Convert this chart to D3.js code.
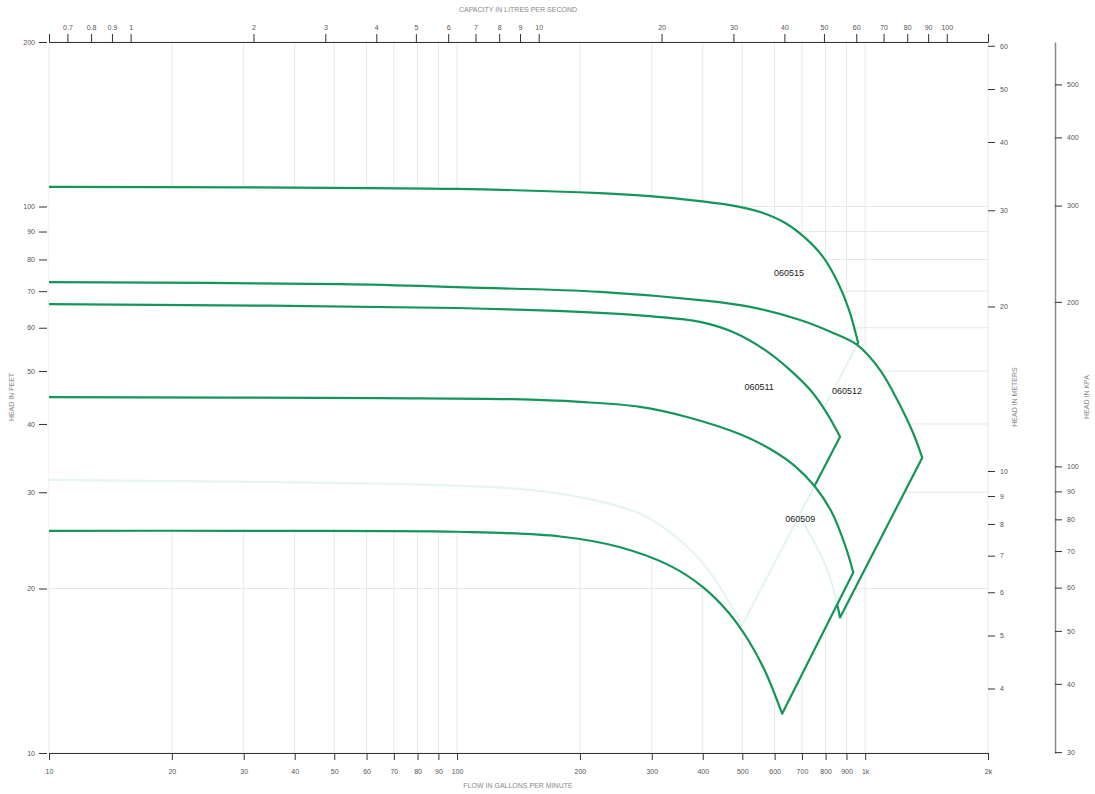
<!DOCTYPE html>
<html lang="en">
<head>
  <meta charset="utf-8">
  <title>Pump curves 0605 series</title>
  <!-- d3 v7 does all the drawing -->
  <script src="https://d3js.org/d3.v7.min.js"></script>
  <style>
    body { margin: 0; background: #fff; }
    svg { opacity: 0.995; }
    .axis text { font: 7px "Liberation Sans", Arial, sans-serif; fill: #555; }
    .axis line, .axis path { stroke: #333; }
    .title { font: 7px "Liberation Sans", Arial, sans-serif; fill: #888; }
    .grid line { stroke: #e8e8e8; stroke-width: 1; }
    .model { fill: #fff; fill-opacity: 0.9; stroke: #14965a; stroke-width: 2.2; stroke-linejoin: round; }
    .model-label { font: 9px "Liberation Sans", Arial, sans-serif; fill: #222; }
  </style>
</head>
<body>
<script>
  /* values: [flow gpm, head ft] */
  const models = ["060515", "060512", "060511", "060509"];

  const max060515 = [[10,108.6],[30,108.4],[100,107.7],[224,105.8],[297,104.5],[394,102.3],[467,100.6],[553,97.7],[637,93.3],[713,87.6],[789,80.8],[859,72.4],[913,64.7],[961,56.3]];
  const min060515 = [[10,50.4],[65,49.8],[137,49.0],[281,46.2],[401,39.0],[480,32.3],[550,25.3]];

  const max060512 = [[10,72.7],[52,72.1],[100,71.2],[224,69.8],[394,67.4],[523,65.5],[693,62.0],[835,58.7],[956,55.8],[1088,50.2],[1198,44.3],[1311,38.5],[1380,34.7]];
  const min060512 = [[10,40.5],[65,40.1],[281,37.4],[441,35.4],[553,32.3],[644,29.0],[733,25.1],[812,21.4],[868,17.7]];

  const max060511 = [[10,66.3],[100,65.2],[224,63.9],[297,63.0],[394,61.5],[480,58.7],[569,54.6],[655,50.2],[733,46.2],[802,42.1],[868,37.9]];
  const min060511 = [[10,31.6],[65,31.1],[137,30.5],[200,29.4],[281,27.4],[352,24.5],[417,21.4],[499,17.1]];

  const max060509 = [[10,44.8],[65,44.6],[137,44.4],[200,43.9],[281,43.0],[366,41.2],[494,38.3],[585,36.0],[673,33.5],[754,30.7],[830,27.5],[893,24.0],[935,21.4]];
  const min060509 = [[10,25.5],[30,25.5],[100,25.4],[179,24.9],[251,23.8],[333,22.0],[401,20.1],[462,18.1],[517,16.1],[569,14.1],[626,11.8]];

  const labelPoints = [[651,75.6],[903,46.0],[550,46.7],[693,26.8]];

  /* tick values for the five axes */
  const gpmTicks = [10,20,30,40,50,60,70,80,90,100,200,300,400,500,600,700,800,900,1000,2000];
  const lpsTicks = [0.7,0.8,0.9,1,2,3,4,5,6,7,8,9,10,20,30,40,50,60,70,80,90,100];
  const feetTicks = [10,20,30,40,50,60,70,80,90,100,200];
  const meterTicks = [4,5,6,7,8,9,10,20,30,40,50,60];
  const kpaTicks = [30,40,50,60,70,80,90,100,200,300,400,500];

  const curves = [[max060515, min060515], [max060512, min060512], [max060511, min060511], [max060509, min060509]];

  var GPM_PER_LPS = 15.850, M_PER_FT = 0.3048, KPA_PER_FT = 2.989;

  var x = d3.scaleLog().domain([10, 2000]).range([49, 988]);
  var y = d3.scaleLog().domain([10, 200]).range([753, 42]);
  var xL = d3.scaleLog().domain([10 / GPM_PER_LPS, 2000 / GPM_PER_LPS]).range(x.range());
  var yM = d3.scaleLog().domain([10 * M_PER_FT, 200 * M_PER_FT]).range(y.range());
  var yK = d3.scaleLog().domain([10 * KPA_PER_FT, 200 * KPA_PER_FT]).range(y.range());

  var svg = d3.select("body").append("svg")
      .attr("width", 1095)
      .attr("height", 794);

  // grid first, the white-ish model areas wash it out where they overlap
  var grid = svg.append("g").attr("class", "grid");
  grid.selectAll(".vx").data(gpmTicks).enter().append("line")
      .attr("x1", d => x(d)).attr("x2", d => x(d))
      .attr("y1", y(200)).attr("y2", y(10));
  grid.selectAll(".hy").data(feetTicks).enter().append("line")
      .attr("x1", x(10)).attr("x2", x(2000))
      .attr("y1", d => y(d)).attr("y2", d => y(d));

  var line = d3.line()
      .x(d => x(d[0]))
      .y(d => y(d[1]))
      .curve(d3.curveCatmullRom.alpha(0.5));

  // each model: max impeller curve, straight end line, min impeller curve back (left side left open)
  svg.append("g").selectAll("path").data(curves).enter().append("path")
      .attr("class", "model")
      .attr("d", function(c) {
        var top = line(c[0]);
        var bottom = line(c[1].slice().reverse());
        return top + "L" + bottom.substring(1);
      });

  svg.append("g").selectAll("text").data(models).enter().append("text")
      .attr("class", "model-label")
      .attr("x", (d, i) => x(labelPoints[i][0]))
      .attr("y", (d, i) => y(labelPoints[i][1]))
      .attr("dy", "0.35em")
      .attr("text-anchor", "middle")
      .text(d => d);

  // axes
  svg.append("g").attr("class", "axis")
      .attr("transform", "translate(0,753)")
      .call(d3.axisBottom(x).tickValues(gpmTicks)
        .tickFormat(d => d >= 1000 ? (d / 1000) + "k" : d)
        .tickSize(7).tickPadding(9));

  svg.append("g").attr("class", "axis")
      .attr("transform", "translate(0,42)")
      .call(d3.axisTop(xL).tickValues(lpsTicks).tickFormat(d => d)
        .tickSize(8).tickPadding(4));

  svg.append("g").attr("class", "axis")
      .attr("transform", "translate(47,0)")
      .call(d3.axisLeft(y).tickValues(feetTicks).tickFormat(d => d)
        .tickSize(8).tickPadding(4))
      .call(g => g.select(".domain").remove());

  svg.append("g").attr("class", "axis")
      .attr("transform", "translate(988,0)")
      .call(d3.axisRight(yM).tickValues(meterTicks).tickFormat(d => d)
        .tickSize(7).tickPadding(5))
      .call(g => g.select(".domain").remove());

  svg.append("g").attr("class", "axis")
      .attr("transform", "translate(1055,0)")
      .call(d3.axisRight(yK).tickValues(kpaTicks).tickFormat(d => d)
        .tickSize(7).tickPadding(5).tickSizeOuter(0))
      .call(g => g.select(".domain").style("stroke", "#888").attr("stroke-width", 1.5));

  // axis titles
  var titles = [
    ["CAPACITY IN LITRES PER SECOND", 518, 10, 0],
    ["FLOW IN GALLONS PER MINUTE", 518, 786, 0],
    ["HEAD IN FEET", 12, 397, -90],
    ["HEAD IN METERS", 1015, 397, -90],
    ["HEAD IN KPA", 1087, 397, -90]
  ];
  svg.selectAll(".title").data(titles).enter().append("text")
      .attr("class", "title")
      .attr("text-anchor", "middle")
      .attr("dy", "0.35em")
      .attr("transform", d => "translate(" + d[1] + "," + d[2] + ") rotate(" + d[3] + ")")
      .text(d => d[0]);
</script>
</body>
</html>
